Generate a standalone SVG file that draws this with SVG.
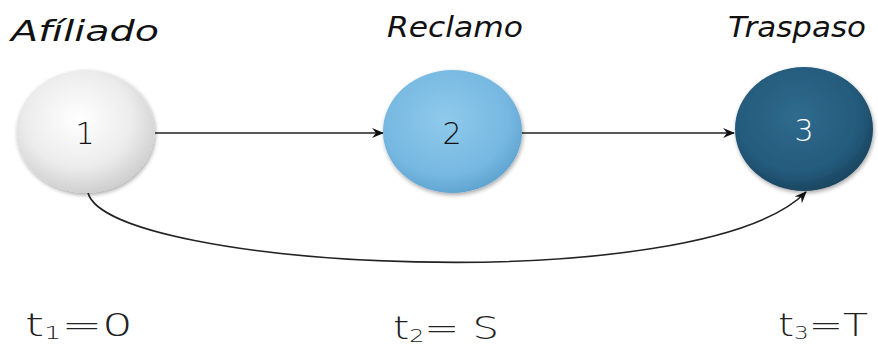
<svg xmlns="http://www.w3.org/2000/svg" width="878" height="347" viewBox="0 0 878 347">
<style>
.lbl{font-family:"DejaVu Sans","Liberation Sans",sans-serif;font-style:oblique;font-weight:200;font-size:28px;fill:#111}
.num{font-family:"DejaVu Sans","Liberation Sans",sans-serif;font-size:30px;font-weight:200;text-anchor:middle}
.t{font-family:"DejaVu Sans","Liberation Sans",sans-serif;font-size:32px;font-weight:200;fill:#222}
.sub{font-size:18px}
.edge{fill:none;stroke:#222;stroke-width:1.6}
</style>
<defs>
<radialGradient id="g1" cx="0.45" cy="0.4" r="0.65">
<stop offset="0" stop-color="#ffffff"/><stop offset="0.6" stop-color="#ececec"/><stop offset="1" stop-color="#c9c9c9"/>
</radialGradient>
<radialGradient id="g2" cx="0.45" cy="0.4" r="0.65">
<stop offset="0" stop-color="#8fcaeb"/><stop offset="0.7" stop-color="#76b8e1"/><stop offset="1" stop-color="#5a9fcd"/>
</radialGradient>
<radialGradient id="g3" cx="0.45" cy="0.4" r="0.65">
<stop offset="0" stop-color="#2f6b8e"/><stop offset="0.7" stop-color="#245a7b"/><stop offset="1" stop-color="#173f58"/>
</radialGradient>
<filter id="sh" x="-20%" y="-20%" width="140%" height="140%">
<feGaussianBlur in="SourceAlpha" stdDeviation="2"/><feOffset dx="1" dy="2"/>
<feComponentTransfer><feFuncA type="linear" slope="0.35"/></feComponentTransfer>
<feMerge><feMergeNode/><feMergeNode in="SourceGraphic"/></feMerge>
</filter>
<marker id="arr" viewBox="0 0 12 10" refX="11" refY="5" markerWidth="12" markerHeight="10" markerUnits="userSpaceOnUse" orient="auto">
<path d="M0,0 L12,5 L0,10 L4,5 Z" fill="#111"/>
</marker>
</defs>
<g id="edges">
<line class="edge" x1="155" y1="133" x2="383" y2="133" marker-end="url(#arr)"/>
<line class="edge" x1="522" y1="133" x2="734" y2="133" marker-end="url(#arr)"/>
<path class="edge" d="M88,193 C110,270 700,300 806,192" marker-end="url(#arr)"/>
</g>
<g id="n1">
<ellipse cx="85.5" cy="131.5" rx="69" ry="61.5" fill="url(#g1)" filter="url(#sh)"/>
<text class="num" x="85" y="144" fill="#111">1</text>
<text class="lbl" x="11" y="41" textLength="148" lengthAdjust="spacingAndGlyphs">Afíliado</text>
</g>
<g id="n2">
<ellipse cx="452.5" cy="131.5" rx="69.5" ry="61.5" fill="url(#g2)" filter="url(#sh)"/>
<text class="num" x="452" y="144" fill="#111">2</text>
<text class="lbl" x="387" y="37" textLength="136" lengthAdjust="spacingAndGlyphs">Reclamo</text>
</g>
<g id="n3">
<ellipse cx="804" cy="129" rx="69" ry="62" fill="url(#g3)" filter="url(#sh)"/>
<text class="num" x="804" y="141" fill="#fff">3</text>
<text class="lbl" x="728" y="37" textLength="138" lengthAdjust="spacingAndGlyphs">Traspaso</text>
</g>
<g id="times">
<text class="t" x="25" y="336" textLength="108" lengthAdjust="spacingAndGlyphs">t<tspan class="sub" dy="3">1</tspan><tspan dy="-3">=0</tspan></text>
<text class="t" x="393" y="339" textLength="106" lengthAdjust="spacingAndGlyphs">t<tspan class="sub" dy="3">2</tspan><tspan dy="-3">= S</tspan></text>
<text class="t" x="778" y="336" textLength="90" lengthAdjust="spacingAndGlyphs">t<tspan class="sub" dy="3">3</tspan><tspan dy="-3">=T</tspan></text>
</g>
</svg>
